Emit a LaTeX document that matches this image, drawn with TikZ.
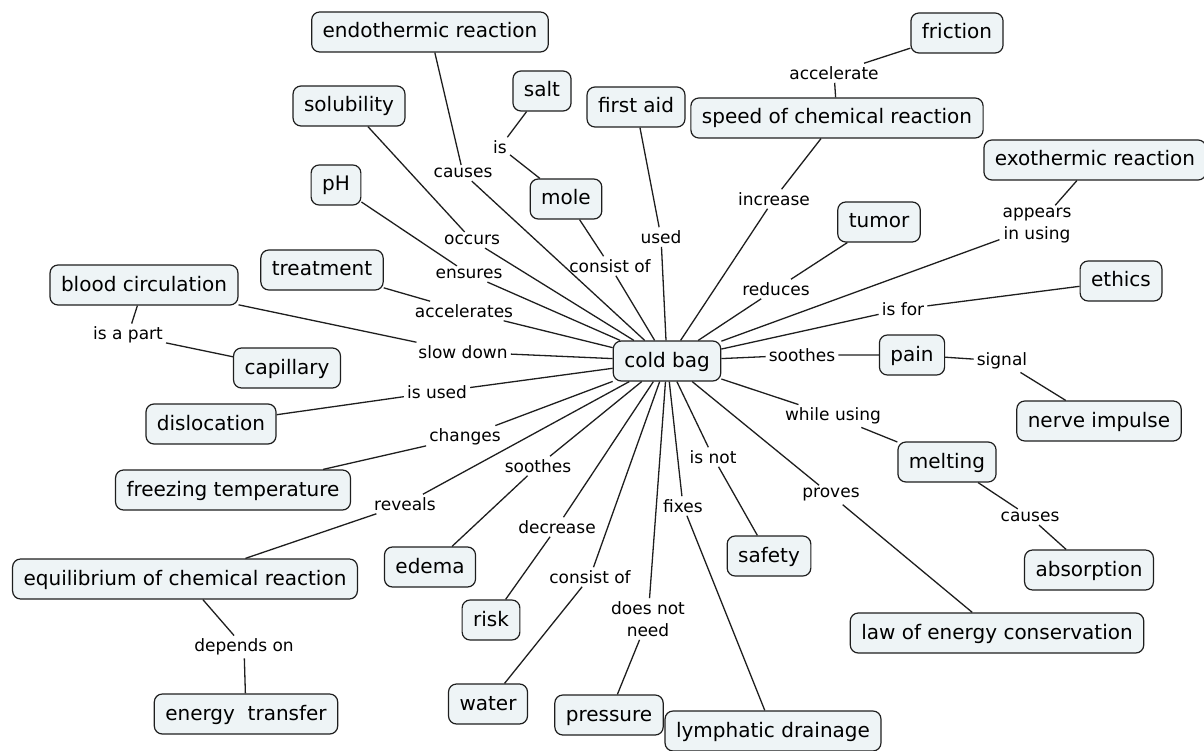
\documentclass[tikz,border=0pt]{standalone}
\usepackage{fontspec}
\setmainfont{DejaVu Sans}
\definecolor{cfill}{RGB}{238,244,246}
\definecolor{cline}{RGB}{30,30,30}
\begin{document}
\begin{tikzpicture}[x=1pt,y=-1pt,
  concept/.style={draw=cline, line width=1.2pt, fill=cfill, rounded corners=8pt,
    font=\fontsize{20}{24}\selectfont, inner xsep=11pt, inner ysep=0pt,
    minimum height=40pt, text height=16pt, text depth=4pt},
  lbl/.style={font=\fontsize{17}{22}\selectfont, inner sep=3pt, align=center},
  link/.style={line width=1.3pt, draw=cline}]
\useasboundingbox (0,0) rectangle (1204,751);
% concepts
\node[concept] (cold) at (667,361) {cold bag};
\node[concept] (endo) at (430,32) {endothermic reaction};
\node[concept] (salt) at (542,91) {salt};
\node[concept] (aid) at (636,107) {first aid};
\node[concept] (fric) at (957,33) {friction};
\node[concept] (speed) at (837,118) {speed of chemical reaction};
\node[concept] (solu) at (349,106) {solubility};
\node[concept] (exo) at (1095,160) {exothermic reaction};
\node[concept] (mole) at (566,199) {mole};
\node[concept] (tumor) at (879,222) {tumor};
\node[concept] (ph) at (336,185) {pH};
\node[concept] (treat) at (322,270) {treatment};
\node[concept] (blood) at (144,285) {blood circulation};
\node[concept] (ethics) at (1121,281) {ethics};
\node[concept] (cap) at (287,368) {capillary};
\node[concept] (pain) at (912,355) {pain};
\node[concept] (disl) at (211,424) {dislocation};
\node[concept] (nerve) at (1099,421) {nerve impulse};
\node[concept] (melt) at (947,462) {melting};
\node[concept] (freeze) at (233,490) {freezing temperature};
\node[concept] (equi) at (185,579) {equilibrium of chemical reaction};
\node[concept] (edema) at (430,567) {edema};
\node[concept] (safety) at (769,556) {safety};
\node[concept] (absorb) at (1089,570) {absorption};
\node[concept] (risk) at (491,620) {risk};
\node[concept] (law) at (997,633) {law of energy conservation};
\node[concept] (energy) at (246,714) {energy\ \ transfer};
\node[concept] (water) at (488,704) {water};
\node[concept] (press) at (609,715) {pressure};
\node[concept] (lymph) at (773,731) {lymphatic drainage};
% labels
\node[lbl] (l1) at (834,73) {accelerate};
\node[lbl] (l2) at (500,147) {is};
\node[lbl] (l3) at (463,173) {causes};
\node[lbl] (l4) at (774,199) {increase};
\node[lbl] (l5) at (1037,226) {appears\\in using};
\node[lbl] (l6) at (472,240) {occurs};
\node[lbl] (l7) at (661,237) {used};
\node[lbl] (l8) at (610,266) {consist of};
\node[lbl] (l9) at (469,274) {ensures};
\node[lbl] (l10) at (776,289) {reduces};
\node[lbl] (l11) at (464,311) {accelerates};
\node[lbl] (l12) at (903,309) {is for};
\node[lbl] (l13) at (128,335) {is a part};
\node[lbl] (l14) at (463,352) {slow down};
\node[lbl] (l15) at (802,355) {soothes};
\node[lbl] (l16) at (1002,361) {signal};
\node[lbl] (l17) at (437,392) {is used};
\node[lbl] (l18) at (833,416) {while using};
\node[lbl] (l19) at (465,437) {changes};
\node[lbl] (l20) at (538,466) {soothes};
\node[lbl] (l21) at (713,457) {is not};
\node[lbl] (l22) at (683,506) {fixes};
\node[lbl] (l23) at (831,495) {proves};
\node[lbl] (l24) at (1030,517) {causes};
\node[lbl] (l25) at (405,504) {reveals};
\node[lbl] (l26) at (557,527) {decrease};
\node[lbl] (l27) at (590,577) {consist of};
\node[lbl] (l28) at (648,619) {does not\\need};
\node[lbl] (l29) at (244,647) {depends on};
% links
\draw[link] (fric) -- (l1) -- (speed);
\draw[link] (salt) -- (l2) -- (mole);
\draw[link] (endo) -- (l3) -- (cold);
\draw[link] (speed) -- (l4) -- (cold);
\draw[link] (exo) -- (l5) -- (cold);
\draw[link] (solu) -- (l6) -- (cold);
\draw[link] (aid) -- (l7) -- (cold);
\draw[link] (mole) -- (l8) -- (cold);
\draw[link] (ph) -- (l9) -- (cold);
\draw[link] (tumor) -- (l10) -- (cold);
\draw[link] (treat) -- (l11) -- (cold);
\draw[link] (ethics) -- (l12) -- (cold);
\draw[link] (blood) -- (l13) -- (cap);
\draw[link] (blood) -- (l14) -- (cold);
\draw[link] (cold) -- (l15) -- (pain);
\draw[link] (pain) -- (l16) -- (nerve);
\draw[link] (disl) -- (l17) -- (cold);
\draw[link] (cold) -- (l18) -- (melt);
\draw[link] (freeze) -- (l19) -- (cold);
\draw[link] (edema) -- (l20) -- (cold);
\draw[link] (cold) -- (l21) -- (safety);
\draw[link] (cold) -- (l22) -- (lymph);
\draw[link] (cold) -- (l23) -- (law);
\draw[link] (melt) -- (l24) -- (absorb);
\draw[link] (equi) -- (l25) -- (cold);
\draw[link] (risk) -- (l26) -- (cold);
\draw[link] (water) -- (l27) -- (cold);
\draw[link] (press) -- (l28) -- (cold);
\draw[link] (equi) -- (l29) -- (energy);
\end{tikzpicture}
\end{document}
